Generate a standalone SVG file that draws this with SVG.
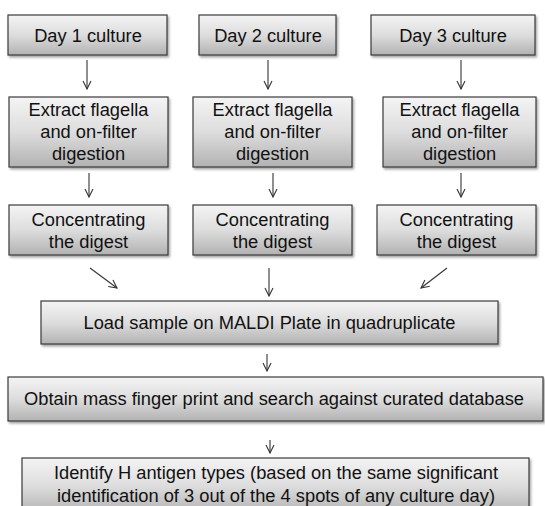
<svg xmlns="http://www.w3.org/2000/svg" width="545" height="506" viewBox="0 0 545 506">
<style>
.box{fill:url(#g);stroke:#3a3a3a;stroke-width:1.2;filter:url(#sh)}
.t{font-family:"Liberation Sans",Arial,sans-serif;font-size:18.3px;fill:#111;text-anchor:middle}
.c{stroke:#333;stroke-width:1.1;fill:none;marker-end:url(#ah)}
</style>
<defs>
<linearGradient id="g" x1="0" y1="0" x2="0" y2="1">
<stop offset="0" stop-color="#f4f4f4"/>
<stop offset="0.5" stop-color="#dddddd"/>
<stop offset="1" stop-color="#b2b2b2"/>
</linearGradient>
<filter id="sh" x="-5%" y="-10%" width="115%" height="130%">
<feDropShadow dx="1.5" dy="2" stdDeviation="1.2" flood-color="#000" flood-opacity="0.35"/>
</filter>
<marker id="ah" viewBox="0 0 10 10" refX="9" refY="5" markerWidth="10" markerHeight="10" markerUnits="userSpaceOnUse" orient="auto">
<path d="M1,1 L9,5 L1,9" fill="none" stroke="#333" stroke-width="1.1"/>
</marker>
</defs>
<g id="connectors">
<line class="c" x1="87" y1="60" x2="87" y2="89"/>
<line class="c" x1="268" y1="60" x2="268" y2="89"/>
<line class="c" x1="461" y1="60" x2="461" y2="89"/>
<line class="c" x1="89" y1="173" x2="89" y2="197"/>
<line class="c" x1="273" y1="173" x2="273" y2="197"/>
<line class="c" x1="461" y1="173" x2="461" y2="197"/>
<line class="c" x1="90" y1="268" x2="117" y2="288"/>
<line class="c" x1="269" y1="268" x2="269" y2="296"/>
<line class="c" x1="447" y1="268" x2="421" y2="288"/>
<line class="c" x1="267" y1="354" x2="267" y2="371"/>
<line class="c" x1="270" y1="440" x2="270" y2="453"/>
</g>
<g id="day1"><rect class="box" x="8" y="15" width="159" height="40"/><text class="t" x="88" y="42">Day 1 culture</text></g>
<g id="day2"><rect class="box" x="199" y="15" width="137" height="40"/><text class="t" x="268" y="42">Day 2 culture</text></g>
<g id="day3"><rect class="box" x="371" y="15" width="164" height="40"/><text class="t" x="453" y="42">Day 3 culture</text></g>
<g id="extract1"><rect class="box" x="9" y="97" width="159" height="70"/><text class="t" x="88.5" y="116">Extract flagella</text><text class="t" x="88.5" y="138">and on-filter</text><text class="t" x="88.5" y="160">digestion</text></g>
<g id="extract2"><rect class="box" x="193" y="97" width="159" height="70"/><text class="t" x="272.5" y="116">Extract flagella</text><text class="t" x="272.5" y="138">and on-filter</text><text class="t" x="272.5" y="160">digestion</text></g>
<g id="extract3"><rect class="box" x="383" y="97" width="153" height="70"/><text class="t" x="459.5" y="116">Extract flagella</text><text class="t" x="459.5" y="138">and on-filter</text><text class="t" x="459.5" y="160">digestion</text></g>
<g id="conc1"><rect class="box" x="9" y="205" width="159" height="50"/><text class="t" x="88.5" y="226">Concentrating</text><text class="t" x="88.5" y="248">the digest</text></g>
<g id="conc2"><rect class="box" x="193" y="205" width="159" height="50"/><text class="t" x="272.5" y="226">Concentrating</text><text class="t" x="272.5" y="248">the digest</text></g>
<g id="conc3"><rect class="box" x="377" y="205" width="159" height="50"/><text class="t" x="456.5" y="226">Concentrating</text><text class="t" x="456.5" y="248">the digest</text></g>
<g id="load"><rect class="box" x="41" y="301" width="457" height="43"/><text class="t" x="269.5" y="329">Load sample on MALDI Plate in quadruplicate</text></g>
<g id="obtain"><rect class="box" x="8" y="377" width="535" height="44"/><text class="t" x="274" y="405">Obtain mass finger print and search against curated database</text></g>
<g id="identify"><rect class="box" x="22" y="458" width="507" height="56"/><text class="t" x="276" y="479">Identify H antigen types (based on the same significant</text><text class="t" x="276" y="502">identification of 3 out of the 4 spots of any culture day)</text></g>
</svg>
